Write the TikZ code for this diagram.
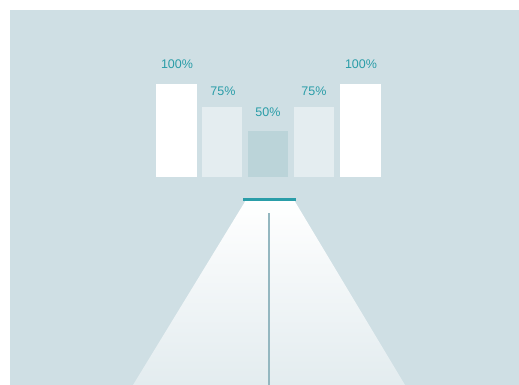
\documentclass[tikz,border=0pt]{standalone}
\usepackage{fontspec}
\setmainfont{Liberation Sans}
\definecolor{bgc}{HTML}{CFDFE4}
\definecolor{teal1}{HTML}{2A9DA8}
\definecolor{barlight}{HTML}{E4EDF0}
\definecolor{barmid}{HTML}{BBD4D9}
\definecolor{beamend}{HTML}{E3ECEF}
\definecolor{axisc}{HTML}{94B7C0}
\begin{document}
\begin{tikzpicture}[x=1pt,y=-1pt,
  bar/.style={inner sep=0pt,minimum width=41pt,anchor=south},
  pct/.style={text=teal1,font=\fontsize{12.5}{14}\selectfont,inner sep=0pt}]
\useasboundingbox (0,0) rectangle (519,385);
\fill[white] (0,0) rectangle (519,385);
\fill[bgc] (10,10) rectangle (519,385);
% bars
\node[bar,fill=white,minimum height=93pt] (b1) at (176.5,177) {};
\node[bar,fill=barlight,minimum height=70pt,minimum width=40pt] (b2) at (222,177) {};
\node[bar,fill=barmid,minimum height=46pt,minimum width=40pt] (b3) at (268,177) {};
\node[bar,fill=barlight,minimum height=70pt,minimum width=40pt] (b4) at (314,177) {};
\node[bar,fill=white,minimum height=93pt] (b5) at (360.5,177) {};
% labels
\node[pct] (l1) at (177,64) {100\%};
\node[pct] (l2) at (223,91) {75\%};
\node[pct] (l3) at (268,112) {50\%};
\node[pct] (l4) at (314,91) {75\%};
\node[pct] (l5) at (361,64) {100\%};
% beam
\coordinate (sl) at (243,199);
\coordinate (sr) at (296,199);
\shade[top color=white,bottom color=beamend] (246,200) -- (294,200) -- (405,385) -- (133,385) -- cycle;
\coordinate (at) at (269,213);
\coordinate (ab) at (269,385);
\draw[axisc,line width=1.3pt] (at) -- (ab);
\draw[teal1,line width=3pt] (sl) -- (sr);
\end{tikzpicture}
\end{document}
